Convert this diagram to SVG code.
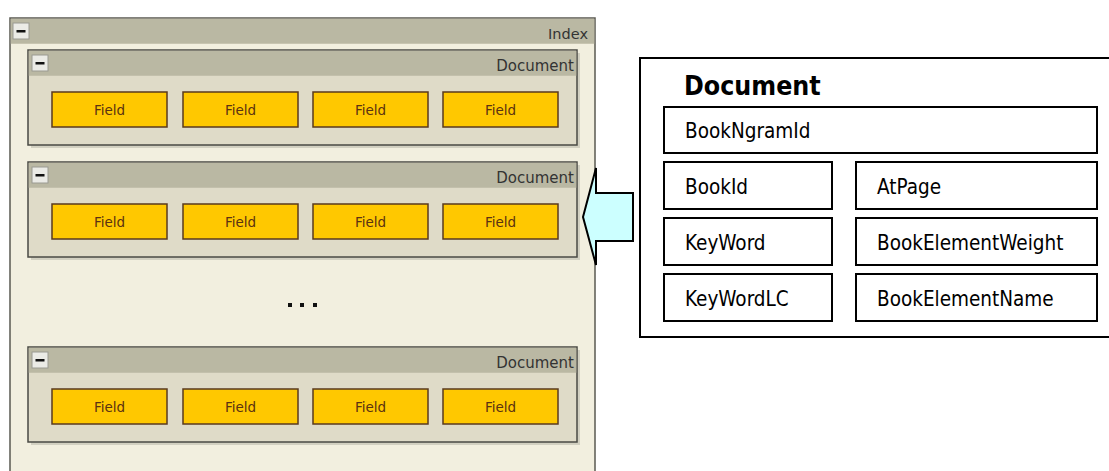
<svg xmlns="http://www.w3.org/2000/svg" width="1109" height="471" viewBox="0 0 1109 471">
  <defs>
    <style>
      .frame { fill: #f2efdf; stroke: #5a5a52; stroke-width: 1.5; }
      .bar { fill: #bab8a3; }
      .doc { fill: #dfdbc8; stroke: #4a4a44; stroke-width: 1.5; }
      .shadow { fill: #b8b6a8; opacity: 0.55; }
      .btn { fill: #ebebe6; stroke: #9a9a92; stroke-width: 1; }
      .btn-bar { fill: #111; }
      .field { fill: #ffc800; stroke: #5a3a1e; stroke-width: 1.5; }
      .field-label { font-family: "DejaVu Sans", sans-serif; font-size: 13.5px; fill: #5a3212; text-anchor: middle; }
      .hdr-label { font-family: "DejaVu Sans", sans-serif; font-size: 15px; fill: #333; text-anchor: end; }
      .idx-label { font-size: 14.5px; }
      .dot { fill: #111; }
      .pointer { fill: #ccffff; stroke: #000; stroke-width: 2; stroke-linejoin: miter; }
      .schema { fill: #fff; stroke: #000; stroke-width: 2; }
      .slot { fill: #fff; stroke: #000; stroke-width: 2; }
      .slot-label { font-family: "DejaVu Sans Condensed", "DejaVu Sans", sans-serif; font-stretch: condensed; font-size: 20.5px; fill: #000; }
      .schema-title { font-family: "DejaVu Sans Condensed", "DejaVu Sans", sans-serif; font-stretch: condensed; font-weight: bold; font-size: 26.5px; fill: #000; }
    </style>
    <!-- collapse button used in every header bar -->
    <g id="minus">
      <rect class="btn" x="0" y="0" width="16" height="16"/>
      <rect class="btn-bar" x="3.5" y="7" width="9" height="2.5"/>
    </g>
    <!-- one document panel with four fields -->
    <g id="docPanel">
      <rect class="shadow" x="3" y="3" width="549" height="95"/>
      <rect class="doc" x="0" y="0" width="549" height="95"/>
      <rect class="bar" x="0.75" y="0.75" width="547.5" height="25"/>
      <use href="#minus" x="4" y="5"/>
      <text class="hdr-label" x="546" y="21">Document</text>
      <rect class="field" x="24" y="42" width="115" height="35"/>
      <text class="field-label" x="81.5" y="64.5">Field</text>
      <rect class="field" x="155" y="42" width="115" height="35"/>
      <text class="field-label" x="212.5" y="64.5">Field</text>
      <rect class="field" x="285" y="42" width="115" height="35"/>
      <text class="field-label" x="342.5" y="64.5">Field</text>
      <rect class="field" x="415" y="42" width="115" height="35"/>
      <text class="field-label" x="472.5" y="64.5">Field</text>
    </g>
  </defs>

  <rect x="0" y="0" width="1109" height="471" fill="#fff"/>

  <!-- index container -->
  <g id="index">
    <rect class="frame" x="10" y="18" width="585" height="470"/>
    <rect class="bar" x="10.75" y="18.75" width="583.5" height="25"/>
    <use href="#minus" x="13" y="23"/>
    <text class="hdr-label idx-label" x="588" y="39">Index</text>
  </g>

  <g id="document-1">
    <use href="#docPanel" x="28" y="50"/>
  </g>
  <g id="document-2">
    <use href="#docPanel" x="28" y="162"/>
  </g>
  <g id="ellipsis">
    <rect class="dot" x="288" y="303" width="4" height="4"/>
    <rect class="dot" x="300" y="303" width="4" height="4"/>
    <rect class="dot" x="313" y="303" width="4" height="4"/>
  </g>
  <g id="document-3">
    <use href="#docPanel" x="28" y="347"/>
  </g>

  <!-- block arrow from the schema into the index -->
  <g id="connectors">
    <path class="pointer" d="M583 217 L596 168 L596 193 L633 193 L633 241 L596 241 L596 265 Z"/>
  </g>

  <!-- document schema -->
  <g id="schema">
    <rect class="schema" x="640" y="58" width="490" height="279"/>
    <text class="schema-title" x="684" y="95">Document</text>
  </g>
  <g id="slot-BookNgramId">
    <rect class="slot" x="664" y="107" width="433" height="46"/>
    <text class="slot-label" x="685" y="138">BookNgramId</text>
  </g>
  <g id="slot-BookId">
    <rect class="slot" x="664" y="162" width="168" height="47"/>
    <text class="slot-label" x="685" y="194">BookId</text>
  </g>
  <g id="slot-AtPage">
    <rect class="slot" x="856" y="162" width="241" height="47"/>
    <text class="slot-label" x="877" y="194">AtPage</text>
  </g>
  <g id="slot-KeyWord">
    <rect class="slot" x="664" y="218" width="168" height="47"/>
    <text class="slot-label" x="685" y="250">KeyWord</text>
  </g>
  <g id="slot-BookElementWeight">
    <rect class="slot" x="856" y="218" width="241" height="47"/>
    <text class="slot-label" x="877" y="250">BookElementWeight</text>
  </g>
  <g id="slot-KeyWordLC">
    <rect class="slot" x="664" y="274" width="168" height="47"/>
    <text class="slot-label" x="685" y="306">KeyWordLC</text>
  </g>
  <g id="slot-BookElementName">
    <rect class="slot" x="856" y="274" width="241" height="47"/>
    <text class="slot-label" x="877" y="306">BookElementName</text>
  </g>
</svg>
